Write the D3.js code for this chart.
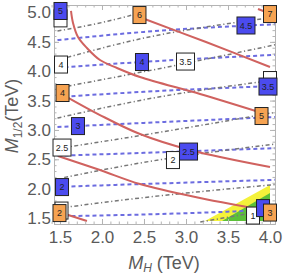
<!DOCTYPE html>
<html>
<head>
<meta charset="utf-8">
<script src="https://cdn.jsdelivr.net/npm/d3@7"></script>
<style>
  body { margin: 0; background: #fff; }
  svg { display: block; }
  text { font-family: "Liberation Sans", Arial, sans-serif; }
</style>
</head>
<body>
<svg id="chart"></svg>
<script>
const width = 284, height = 276;
const margin = {top: 5, right: 9, bottom: 52, left: 54};

// axis ranges (TeV) and ticks
const xDomain = [1.4286, 4.0595];
const yDomain = [1.398, 5.128];
const xTicks = [1.5, 2.0, 2.5, 3.0, 3.5, 4.0];
const yTicks = [1.5, 2.0, 2.5, 3.0, 3.5, 4.0, 4.5, 5.0];

// blue dashed contours [M_H, M_1/2]
const blueLines = [
  [[1.47, 4.53], [2.5, 4.67], [4.06, 4.80]],
  [[1.47, 4.06], [2.5, 4.16], [4.06, 4.28]],
  [[1.47, 3.56], [2.5, 3.65], [4.06, 3.75]],
  [[1.47, 3.05], [2.5, 3.12], [4.06, 3.22]],
  [[1.47, 2.56], [2.5, 2.61], [4.06, 2.69]],
  [[1.47, 2.03], [2.5, 2.08], [4.06, 2.15]],
  [[1.47, 1.53], [2.5, 1.56], [4.06, 1.64]]
];

// gray dot-dashed contours
const grayLines = [
  [[1.47, 4.685], [2.0, 4.83], [2.45, 4.99]],
  [[1.47, 4.19], [2.5, 4.565], [3.63, 4.838], [4.06, 4.923]],
  [[1.47, 3.714], [2.595, 4.02], [4.06, 4.45]],
  [[1.47, 3.203], [2.476, 3.509], [4.06, 3.85]],
  [[1.55, 2.70], [2.476, 2.91], [3.88, 3.254], [4.06, 3.30]],
  [[1.55, 2.19], [2.452, 2.436], [4.06, 2.76]],
  [[1.55, 1.68], [2.452, 1.84], [4.06, 2.07]],
  [[3.17, 1.432], [3.786, 1.585]]
];

// red contours
const redLines = [
  [[1.631, 5.026], [1.655, 4.821], [1.714, 4.583], [1.821, 4.395], [1.976, 4.191], [2.179, 4.055], [2.452, 3.901], [3.167, 3.612], [3.869, 3.305]],
  [[2.40, 4.95], [2.476, 4.906], [3.238, 4.497], [4.0, 4.072]],
  [[3.857, 5.06], [3.952, 5.008]],
  [[1.583, 3.56], [1.976, 3.254], [2.452, 2.93], [3.048, 2.658], [4.0, 2.368]],
  [[1.476, 2.555], [1.976, 2.317], [2.452, 2.078], [3.167, 1.84], [3.786, 1.67], [3.94, 1.62]],
  [[1.56, 1.567], [1.821, 1.448]]
];

// shaded regions
const yellowRegion = [[3.226, 1.449], [4.0, 2.062], [4.0, 1.449]];
const greenRegion = [[3.429, 1.449], [4.0, 1.926], [4.0, 1.449]];

// contour labels [M_H, M_1/2, text]; labels hidden under another box carry no text
const whiteLabels = [
  [1.506, 4.90, ""], [1.512, 4.114, "4"], [2.994, 4.165, "3.5"], [4.0, 3.85, ""],
  [1.524, 2.70, "2.5"], [2.845, 2.487, "2"], [1.518, 1.627, ""], [3.798, 1.542, "1"]
];
const blueLabels = [
  [1.506, 5.026, "5"], [3.714, 4.779, "4.5"], [2.476, 4.157, "4"], [3.976, 3.739, "3.5"],
  [1.714, 3.066, "3"], [3.03, 2.632, "2.5"], [1.524, 2.027, "2"], [3.917, 1.669, ""]
];
const orangeLabels = [
  [2.446, 4.957, "6"], [4.0, 4.974, "7"], [1.53, 3.629, "4"],
  [3.899, 3.237, "5"], [4.0, 1.593, "3"], [1.494, 1.584, "2"]
];

const iw = width - margin.left - margin.right;
const ih = height - margin.top - margin.bottom;

const svg = d3.select("#chart").attr("width", width).attr("height", height);
const g = svg.append("g").attr("transform", `translate(${margin.left},${margin.top})`);

const x = d3.scaleLinear().domain(xDomain).range([0, iw]);
const y = d3.scaleLinear().domain(yDomain).range([ih, 0]);

g.append("clipPath").attr("id", "clip")
  .append("rect").attr("width", iw).attr("height", ih);

const plot = g.append("g").attr("clip-path", "url(#clip)");

const area = d3.line().x(d => x(d[0])).y(d => y(d[1]));
plot.append("path").attr("d", area(yellowRegion) + "Z").attr("fill", "#f4f23a");
plot.append("path").attr("d", area(greenRegion) + "Z").attr("fill", "#5cc03a");

const line = d3.line().x(d => x(d[0])).y(d => y(d[1])).curve(d3.curveMonotoneX);
const smooth = d3.line().x(d => x(d[0])).y(d => y(d[1])).curve(d3.curveCatmullRom);

plot.selectAll(".blue").data(blueLines).enter().append("path")
  .attr("d", line).attr("fill", "none")
  .attr("stroke", "#6c6ce0").attr("stroke-width", 2).attr("stroke-dasharray", "4,3");

plot.selectAll(".gray").data(grayLines).enter().append("path")
  .attr("d", line).attr("fill", "none")
  .attr("stroke", "#777").attr("stroke-width", 1.5).attr("stroke-dasharray", "4,2.5,1.2,2.5");

plot.selectAll(".red").data(redLines).enter().append("path")
  .attr("d", smooth).attr("fill", "none")
  .attr("stroke", "#d0625f").attr("stroke-width", 2);

// frame axes
const minor = d3.range(14, 41).map(d => d / 10);
const minorY = d3.range(14, 52).map(d => d / 10);
const fmt = d3.format(".1f");
const axisColor = "#b4b4b4", labelColor = "#5a5a5a";

function frame(axis, tx, ty, labels) {
  const a = g.append("g").attr("transform", `translate(${tx},${ty})`).call(axis);
  a.select(".domain").attr("stroke", axisColor);
  a.selectAll(".tick line").attr("stroke", axisColor);
  a.selectAll("text").attr("fill", labelColor).style("font-size", "17px")
    .style("font-family", "'Liberation Sans', Arial, sans-serif");
  if (!labels) a.selectAll("text").remove();
  return a;
}
frame(d3.axisBottom(x).tickValues(minor).tickSize(-2.5).tickSizeOuter(0).tickFormat(""), 0, ih, false);
frame(d3.axisBottom(x).tickValues(xTicks).tickSize(-5).tickSizeOuter(0).tickPadding(7).tickFormat(fmt), 0, ih, true);
frame(d3.axisTop(x).tickValues(minor).tickSize(-2.5).tickSizeOuter(0).tickFormat(""), 0, 0, false);
frame(d3.axisTop(x).tickValues(xTicks).tickSize(-5).tickSizeOuter(0).tickFormat(""), 0, 0, false);
frame(d3.axisLeft(y).tickValues(minorY).tickSize(-2.5).tickSizeOuter(0).tickFormat(""), 0, 0, false);
frame(d3.axisLeft(y).tickValues(yTicks).tickSize(-5).tickSizeOuter(0).tickPadding(3).tickFormat(fmt), 0, 0, true);
frame(d3.axisRight(y).tickValues(minorY).tickSize(-2.5).tickSizeOuter(0).tickFormat(""), iw, 0, false);
frame(d3.axisRight(y).tickValues(yTicks).tickSize(-5).tickSizeOuter(0).tickFormat(""), iw, 0, false);

// labels on contours
function boxes(data, fill) {
  const lg = g.selectAll(null).data(data).enter().append("g")
    .attr("transform", d => `translate(${x(d[0])},${y(d[1])})`);
  lg.append("rect")
    .attr("x", d => -(d[2].length > 1 ? 9 : 6.5))
    .attr("width", d => d[2].length > 1 ? 18 : 13)
    .attr("y", -8.5).attr("height", 17)
    .attr("fill", fill).attr("stroke", "#222").attr("stroke-width", 1);
  lg.filter(d => d[2] !== "").append("text").attr("text-anchor", "middle").attr("dy", "0.35em")
    .style("font-size", "9px").attr("fill", "#222").text(d => d[2]);
}
boxes(whiteLabels, "#ffffff");
boxes(blueLabels, "#4b4bef");
boxes(orangeLabels, "#f6a352");

// axis titles
const xt = svg.append("text").attr("x", 164).attr("y", 269).attr("text-anchor", "middle")
  .attr("fill", labelColor).style("font-size", "18px");
xt.append("tspan").style("font-style", "italic").text("M");
xt.append("tspan").style("font-style", "italic").style("font-size", "12px").attr("dy", 3).text("H");
xt.append("tspan").attr("dy", -3).text(" (TeV)");

const yt = svg.append("text").attr("transform", "translate(18,116) rotate(-90)")
  .attr("text-anchor", "middle").attr("fill", labelColor).style("font-size", "18px");
yt.append("tspan").style("font-style", "italic").text("M");
yt.append("tspan").style("font-size", "12px").attr("dy", 4).text("1/2");
yt.append("tspan").attr("dy", -4).text("(TeV)");
</script>
</body>
</html>
